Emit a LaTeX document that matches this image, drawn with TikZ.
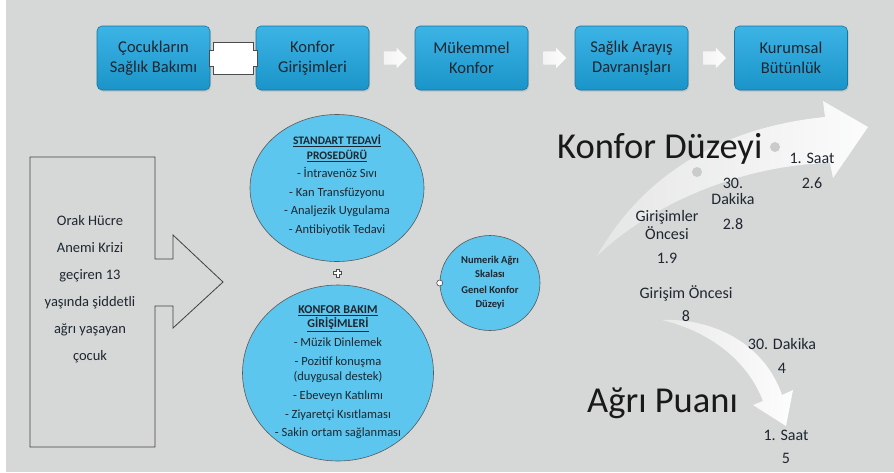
\documentclass[tikz,border=0pt]{standalone}
\usepackage{fontspec}
\setmainfont{Carlito}
\usetikzlibrary{shapes.geometric,shapes.arrows,calc,shadows}
\definecolor{bg}{HTML}{D6D8D7}
\definecolor{boxtop}{HTML}{3CB4E6}
\definecolor{boxbot}{HTML}{1B94C9}
\definecolor{boxline}{HTML}{17759E}
\definecolor{bubblefill}{HTML}{5CC6EE}
\definecolor{ink}{HTML}{1E2630}
\definecolor{dotgray}{HTML}{CACCCB}

\begin{document}
\begin{tikzpicture}[x=1pt,y=-1pt,
  topbox/.style={rectangle, rounded corners=5pt, minimum width=113pt,
    minimum height=64pt, top color=boxtop, bottom color=boxbot,
    draw=boxline, line width=0.6pt, align=center, text=ink,
    font=\fontsize{16.5}{20}\selectfont,
    drop shadow={shadow xshift=1.2pt, shadow yshift=-1.5pt, opacity=0.25}},
  flowarrow/.style={single arrow, minimum height=23pt, minimum width=20pt,
    single arrow head extend=3.5pt, inner xsep=0pt, inner ysep=6.5pt,
    left color=white!70!bg, right color=white!95!bg},
  bubble/.style={ellipse, fill=bubblefill, draw=gray!70!black,
    line width=0.6pt, inner sep=0pt},
  bubbletext/.style={align=center, text=ink},
  ptlabel/.style={align=center, text=ink, font=\fontsize{16}{18}\selectfont},
  bigtitle/.style={anchor=base west, text=black!90, inner sep=0pt},
  joint/.style={fill=white, draw=gray!60!black, line width=0.7pt},
  spot/.style={circle, fill=dotgray, inner sep=0pt, minimum size=10pt}]

% canvas
\path[use as bounding box, fill=bg] (0,0) rectangle (894,472);
\fill[white] (0,0) rectangle (6,472);

% ---- top process row ----
\node[topbox] (b1) at (153.5,58) {Çocukların\\Sağlık Bakımı};
\node[topbox] (b2) at (312.5,58) {Konfor\\Girişimleri};
\node[topbox] (b3) at (471.5,58) {Mükemmel\\Konfor};
\node[topbox] (b4) at (631.5,58) {Sağlık Arayış\\Davranışları};
\node[topbox] (b5) at (791,58) {Kurumsal\\Bütünlük};

% cross-shaped joint between the first two boxes
\coordinate (j12) at ($(b1.east)!.5!(b2.west)$);
\draw[joint, shift={(j12)}]
  (-24,-8) -- (-20,-8) -- (-20,-16) -- (20,-16) -- (20,-8) -- (24,-8)
  -- (24,8) -- (20,8) -- (20,16) -- (-20,16) -- (-20,8) -- (-24,8) -- cycle;

\node[flowarrow] (a23) at ($(b2.east)!.5!(b3.west)$) {};
\node[flowarrow] (a34) at ($(b3.east)!.5!(b4.west)$) {};
\node[flowarrow] (a45) at ($(b4.east)!.5!(b5.west)$) {};

% ---- patient box with its arrow ----
\draw[draw=black!75, line width=0.8pt]
  (30,157) -- (155,157) -- (155,259) -- (173,259) -- (173,235) -- (223,282)
  -- (173,328) -- (173,306) -- (155,306) -- (155,447) -- (30,447) -- cycle;
\node[bubbletext, font=\fontsize{14.5}{27}\selectfont] (pt) at (90,289.5)
  {Orak Hücre\\Anemi Krizi\\geçiren 13\\yaşında şiddetli\\ağrı yaşayan\\çocuk};

% ---- care bubbles ----
\node[bubble, minimum width=174pt, minimum height=147pt] (c1) at (337,188) {};
\node[bubble, minimum width=191pt, minimum height=176pt] (c2) at (338,373) {};
\node[bubble, minimum width=100pt, minimum height=95pt] (c3) at (490,283) {};

\node[bubbletext, font=\fontsize{12.5}{15}\selectfont] (t1) at (337,185)
  {\textbf{\underline{\fontsize{11.5}{15}\selectfont STANDART TEDAVİ}}\\
   \textbf{\underline{\fontsize{11.5}{15}\selectfont PROSEDÜRÜ}}\\[3.5pt]
   - İntravenöz Sıvı\\[3.5pt]- Kan Transfüzyonu\\[3.5pt]- Analjezik Uygulama\\[3.5pt]
   - Antibiyotik Tedavi};
\node[bubbletext, font=\fontsize{12.5}{14}\selectfont] (t2) at (338,372.5)
  {\textbf{\underline{\fontsize{12}{14}\selectfont KONFOR BAKIM}}\\
   \textbf{\underline{\fontsize{12}{14}\selectfont GİRİŞİMLERİ}}\\[5pt]
   - Müzik Dinlemek\\[4.5pt]- Pozitif konuşma\\[1pt](duygusal destek)\\[5pt]
   - Ebeveyn Katılımı\\[5pt]- Ziyaretçi Kısıtlaması\\[4.5pt]
   - Sakin ortam sağlanması};
\node[bubbletext, font=\bfseries\fontsize{10.5}{14}\selectfont] (t3) at (c3.center)
  {Numerik Ağrı\\Skalası\\[2pt]Genel Konfor\\Düzeyi};

% joints between bubbles
\coordinate (j12b) at ($(c1.south)!.5!(c2.north)$);
\draw[joint, line width=0.6pt, shift={(j12b)}]
  (-4,-1.5) -- (-1.5,-1.5) -- (-1.5,-4) -- (1.5,-4) -- (1.5,-1.5) -- (4,-1.5)
  -- (4,1.5) -- (1.5,1.5) -- (1.5,4) -- (-1.5,4) -- (-1.5,1.5) -- (-4,1.5) -- cycle;
\draw[joint, line width=0.6pt] (c3.west) circle[radius=3pt];

% ---- comfort level trend ----
\path[left color=bg!60!white, right color=white, opacity=0.92]
  (597,256) .. controls (640,180) and (715,128) .. (825,117)
  -- (823,101) -- (868,127) -- (833,178) -- (830,163)
  .. controls (740,165) and (650,205) .. (597,256) -- cycle;
\node[spot] (s1) at (697,172) {};
\node[spot] (s2) at (775,147) {};

\node[bigtitle, font=\fontsize{36.5}{40}\selectfont] (kd) at (557,158) {Konfor Düzeyi};

\node[ptlabel] (k1h) at (812,158) {1. Saat};
\node[ptlabel] (k1v) at (812,183) {2.6};
\node[ptlabel, font=\fontsize{16}{16}\selectfont] (k30h) at (733,191) {30.\\Dakika};
\node[ptlabel] (k30v) at (733,224) {2.8};
\node[ptlabel] (k0h) at (667,225) {Girişimler\\Öncesi};
\node[ptlabel] (k0v) at (667,258) {1.9};

% ---- pain score trend ----
\path[left color=bg!50!white, right color=white, opacity=0.95]
  (662,320) .. controls (715,318) and (765,345) .. (782,395)
  -- (793,390) -- (786,426) -- (753,405) -- (763,401)
  .. controls (748,362) and (712,332) .. (662,320) -- cycle;

\node[bigtitle, font=\fontsize{36.5}{40}\selectfont] (ap) at (587,412) {Ağrı Puanı};

\node[ptlabel] (p0h) at (686,293) {Girişim Öncesi};
\node[ptlabel] (p0v) at (686,316) {8};
\node[ptlabel] (p30h) at (782,344) {30. Dakika};
\node[ptlabel] (p30v) at (782,368) {4};
\node[ptlabel] (p1h) at (786,435) {1. Saat};
\node[ptlabel] (p1v) at (786,458) {5};
\end{tikzpicture}
\end{document}
